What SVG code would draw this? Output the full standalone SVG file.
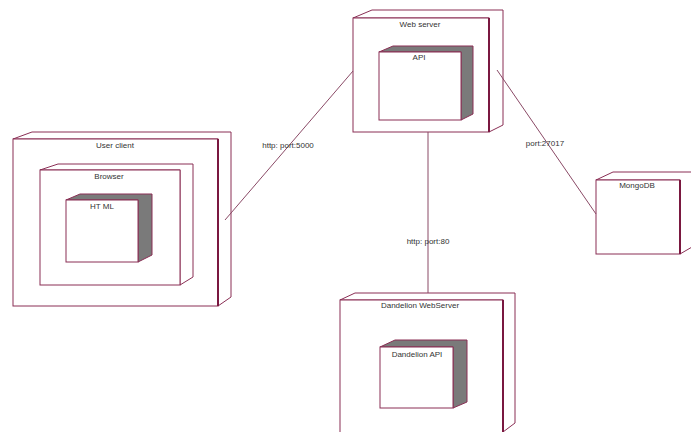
<svg xmlns="http://www.w3.org/2000/svg" width="691" height="432" viewBox="0 0 691 432">
<style>
.f{fill:#fff;stroke:#8a2f55;stroke-width:1}
.s{fill:#fff;stroke:#8a2f55;stroke-width:1}
.d{fill:#7a7a7a;stroke:#8a2f55;stroke-width:1}
.e{stroke:#7a1840;stroke-width:2;fill:none}
.c{stroke:#8a4a66;stroke-width:1;fill:none}
text{font-family:"Liberation Sans",Arial,sans-serif;font-size:8px;fill:#333;text-anchor:middle}
</style>
<rect width="691" height="432" fill="#fff"/>
<g id="web-server">
<polygon class="s" points="353,18 372,10 503,10 503,125 489,132 489,18"/>
<rect class="f" x="353" y="18" width="136" height="114"/>
<line class="e" x1="489" y1="18" x2="489" y2="132"/>
<text x="420" y="27">Web server</text>
</g>
<g id="api">
<polygon class="d" points="379,52 393,46 473,46 473,114 461,120 461,52"/>
<rect class="f" x="379" y="52" width="82" height="68"/>
<text x="419" y="60">API</text>
</g>
<g id="user-client">
<polygon class="s" points="13,139 32,132 231,132 231,297 218,306 218,139"/>
<rect class="f" x="13" y="139" width="205" height="167"/>
<line class="e" x1="218" y1="139" x2="218" y2="306"/>
<text x="115" y="148">User client</text>
</g>
<g id="browser">
<polygon class="s" points="40,170 58,164 193,164 193,277 180,285 180,170"/>
<rect class="f" x="40" y="170" width="140" height="115"/>
<text x="109" y="179">Browser</text>
</g>
<g id="html">
<polygon class="d" points="66,200 80,194 152,194 152,255 138,262 138,200"/>
<rect class="f" x="66" y="200" width="72" height="62"/>
<text x="102" y="209">HT ML</text>
</g>
<g id="mongodb">
<polygon class="s" points="596,180 613,172 692,172 692,247 680,254 680,180"/>
<rect class="f" x="596" y="180" width="84" height="74"/>
<line class="e" x1="680" y1="180" x2="680" y2="254"/>
<text x="637" y="188">MongoDB</text>
</g>
<g id="dandelion-webserver">
<polygon class="s" points="340,300 355,293 515,293 515,423 503,432 503,300"/>
<rect class="f" x="340" y="300" width="163" height="140"/>
<line class="e" x1="503" y1="300" x2="503" y2="432"/>
<text x="420" y="308">Dandelion WebServer</text>
</g>
<g id="dandelion-api">
<polygon class="d" points="380,347 395,340 467,340 467,402 453,408 453,347"/>
<rect class="f" x="380" y="347" width="73" height="61"/>
<text x="417" y="357">Dandelion API</text>
</g>
<g id="connectors">
<line class="c" x1="353" y1="71" x2="225" y2="220"/>
<line class="c" x1="428" y1="132" x2="428" y2="293"/>
<line class="c" x1="497" y1="70" x2="596" y2="214"/>
<text x="288" y="148">http: port:5000</text>
<text x="428" y="244">http: port:80</text>
<text x="545" y="146">port:27017</text>
</g>
</svg>
